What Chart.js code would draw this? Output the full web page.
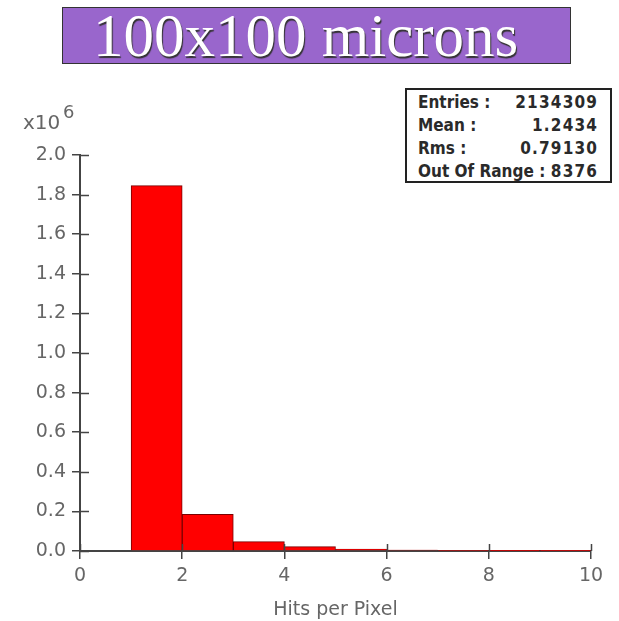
<!DOCTYPE html>
<html>
<head>
<meta charset="utf-8">
<script src="https://cdn.jsdelivr.net/npm/chart.js@4.4.1/dist/chart.umd.min.js"></script>
<style>
  html, body { margin: 0; padding: 0; background: #fff; }
  #wrap { position: relative; width: 619px; height: 621px; }
  #c { position: absolute; left: 0; top: 0; }
  #title {
    position: absolute; left: 62px; top: 7px; height: 55px;
    background: #9966cc; border: 1px solid #333;
    font-family: "Liberation Serif", "Times New Roman", serif; font-size: 61px;
    line-height: 55px; color: #fff; text-shadow: 1px 2px 1px #333;
    padding-left: 30px; box-sizing: content-box; width: 477px;
  }
  #stats {
    position: absolute; left: 405px; top: 88px; width: 207px; height: 95px;
    border: 2px solid #222; background: #fff;
    font-family: "DejaVu Sans Condensed", "DejaVu Sans", sans-serif; font-weight: bold;
    font-size: 17px; color: #2a2a2a; box-sizing: border-box; padding: 1px 13px 0 11px;
  }
  #stats .row { display: flex; justify-content: space-between; height: 23px; line-height: 23px; }
  #stats .val { letter-spacing: 1.2px; margin-right: -1.2px; }
</style>
</head>
<body>
<div id="wrap">
  <canvas id="c" width="619" height="621"></canvas>
  <div id="title">100x100 microns</div>
  <div id="stats"></div>
</div>
<script>
// Histogram of hits per pixel: bin lower edges and counts per bin
const binStarts = [1, 2, 3, 4, 5, 6, 7, 8, 9];
const counts = [1845000, 185000, 47000, 22000, 10000, 5000, 3000, 2000, 1000];
const xTicks = [0, 2, 4, 6, 8, 10];
const yTicks = [0, 200000, 400000, 600000, 800000, 1000000, 1200000, 1400000, 1600000, 1800000, 2000000];
const statLabels = ["Entries :", "Mean :", "Rms :", "Out Of Range :"];
const statValues = ["2134309", "1.2434", "0.79130", "8376"];

// statistics box
const statsEl = document.getElementById('stats');
statLabels.forEach((lab, i) => {
  const row = document.createElement('div');
  row.className = 'row';
  const a = document.createElement('span'); a.textContent = lab;
  const b = document.createElement('span'); b.className = 'val'; b.textContent = statValues[i];
  row.appendChild(a); row.appendChild(b);
  statsEl.appendChild(row);
});

const axisColor = '#444';
const tickFont = { family: 'DejaVu Sans', size: 19 };

// draws the inner half of the tick marks and the x10^6 exponent label
const extras = {
  id: 'extras',
  afterDraw(chart) {
    const ctx = chart.ctx;
    const xs = chart.scales.x, ys = chart.scales.y;
    const area = chart.chartArea;
    ctx.save();
    ctx.strokeStyle = axisColor;
    ctx.lineWidth = 1.5;
    ctx.beginPath();
    xTicks.forEach(v => {
      const px = Math.round(xs.getPixelForValue(v)) + 0.5;
      ctx.moveTo(px, area.bottom);
      ctx.lineTo(px, area.bottom - 7);
    });
    yTicks.forEach(v => {
      const py = Math.round(ys.getPixelForValue(v)) + 0.5;
      ctx.moveTo(area.left, py);
      ctx.lineTo(area.left + 9, py);
    });
    ctx.stroke();
    ctx.fillStyle = '#666';
    ctx.font = '20px "DejaVu Sans"';
    ctx.textBaseline = 'alphabetic';
    ctx.fillText('x10', 23, 129);
    ctx.font = '18px "DejaVu Sans"';
    ctx.fillText('6', 63, 118);
    ctx.restore();
  }
};

new Chart(document.getElementById('c'), {
  type: 'bar',
  data: {
    datasets: [{
      data: binStarts.map((s, i) => ({ x: s + 0.5, y: counts[i] })),
      backgroundColor: '#ff0000',
      borderColor: '#7a0000',
      borderWidth: 1,
      barPercentage: 1,
      categoryPercentage: 1
    }]
  },
  options: {
    responsive: false,
    animation: false,
    devicePixelRatio: 1,
    layout: { padding: { left: 0, top: 155, right: 28, bottom: 0 } },
    plugins: { legend: { display: false }, tooltip: { enabled: false }, title: { display: false } },
    scales: {
      x: {
        type: 'linear', min: 0, max: 10, offset: false,
        afterBuildTicks: s => { s.ticks = xTicks.map(v => ({ value: v })); },
        afterFit: s => { s.height = 70; },
        grid: { display: true, offset: false, drawOnChartArea: false, drawTicks: true, tickLength: 8, color: axisColor, lineWidth: 1.5 },
        border: { display: true, color: axisColor, width: 2 },
        ticks: { color: '#666', font: { family: 'DejaVu Sans', size: 19 }, padding: 6, maxRotation: 0 },
        title: { display: true, text: 'Hits per Pixel', color: '#666', font: { family: 'DejaVu Sans', size: 19 }, padding: { top: 2, bottom: 0 } }
      },
      y: {
        min: 0, max: 2000000,
        afterBuildTicks: s => { s.ticks = yTicks.map(v => ({ value: v })); },
        afterFit: s => { s.width = 80; },
        grid: { display: true, drawOnChartArea: false, drawTicks: true, tickLength: 8, color: axisColor, lineWidth: 1.5 },
        border: { display: true, color: axisColor, width: 2 },
        ticks: { color: '#666', font: tickFont, padding: 6, callback: v => (v / 1e6).toFixed(1) }
      }
    }
  },
  plugins: [extras]
});
</script>
</body>
</html>
